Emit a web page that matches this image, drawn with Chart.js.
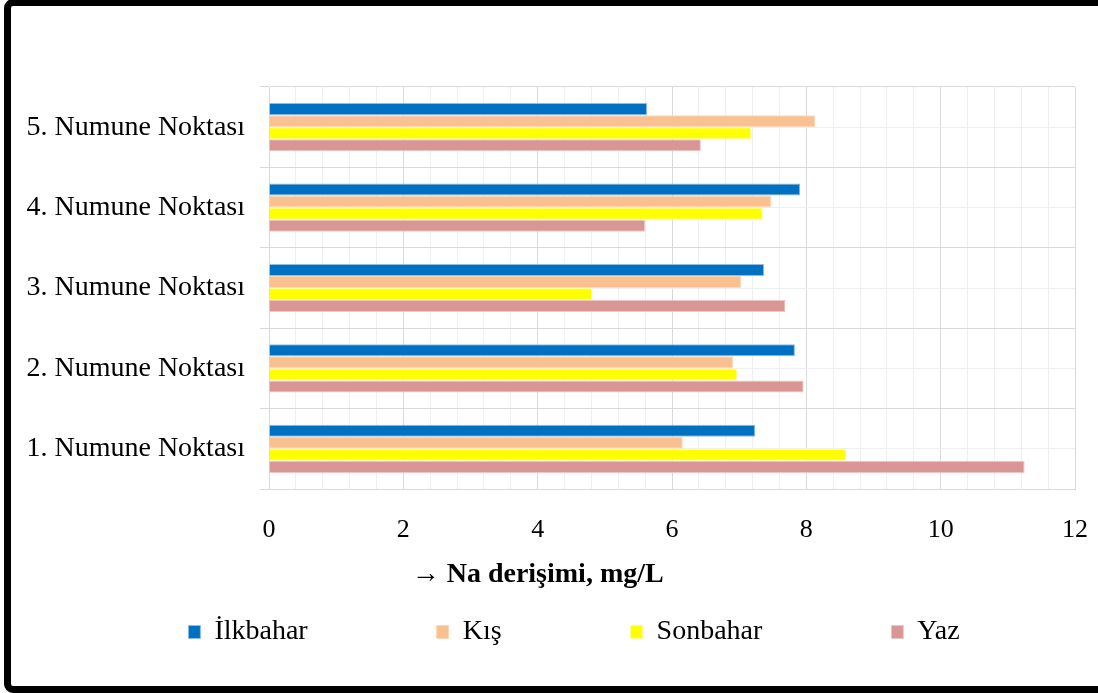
<!DOCTYPE html>
<html lang="tr">
<head>
<meta charset="utf-8">
<title>Na derişimi</title>
<script src="https://cdn.jsdelivr.net/npm/chart.js@4/dist/chart.umd.min.js"></script>
<style>
  html, body { margin: 0; padding: 0; background: #fff; overflow: hidden; }
  #wrap { position: relative; width: 1098px; height: 693px; }
  #frame {
    position: absolute; left: 4px; top: -1px; width: 1110px; height: 694px;
    box-sizing: border-box; border: 7px solid #000; border-radius: 9px;
    pointer-events: none;
  }
</style>
</head>
<body>
<div id="wrap">
  <canvas id="chart"></canvas>
  <div id="frame"></div>
</div>
<script>
// Sampling points (bottom to top on the chart)
const categories = ['1. Numune Noktası', '2. Numune Noktası', '3. Numune Noktası', '4. Numune Noktası', '5. Numune Noktası'];

// Na concentration per season, mg/L
const ilkbahar = [7.24, 7.83, 7.37, 7.91, 5.63];
const kis      = [6.16, 6.91, 7.03, 7.48, 8.13];
const sonbahar = [8.59, 6.97, 4.81, 7.35, 7.18];
const yaz      = [11.25, 7.96, 7.69, 5.60, 6.43];

const seriesNames = ['İlkbahar', 'Kış', 'Sonbahar', 'Yaz'];
const xTitle = '→ Na derişimi, mg/L';

const FONT = '"Liberation Serif", "Times New Roman", serif';
const MAJOR = 2;      // labelled gridline interval
const MINOR = 0.4;    // light gridline interval

Chart.defaults.color = '#000';
Chart.defaults.font.family = FONT;

const isMajor = v => Math.abs(v / MAJOR - Math.round(v / MAJOR)) < 1e-6;

// Bold axis caption under the tick labels, centred on a value of the x scale
const axisCaption = {
  id: 'axisCaption',
  afterDraw(chart, args, opts) {
    const x = chart.scales.x;
    const ctx = chart.ctx;
    ctx.save();
    ctx.font = 'bold 28px ' + FONT;
    ctx.fillStyle = '#000';
    ctx.textAlign = 'center';
    ctx.textBaseline = 'middle';
    ctx.fillText(opts.text, x.getPixelForValue(opts.at), chart.chartArea.bottom + opts.offset);
    ctx.restore();
  }
};

function makeSet(label, data, fill, edge) {
  return {
    label, data,
    backgroundColor: fill,
    borderColor: edge,
    borderWidth: 1,
    categoryPercentage: 0.6,
    barPercentage: 1.0
  };
}

new Chart(document.getElementById('chart'), {
  type: 'bar',
  data: {
    labels: categories,
    datasets: [
      makeSet(seriesNames[0], ilkbahar, '#0070C0', '#8fbde6'),
      makeSet(seriesNames[1], kis,      '#FAC08F', '#fcd8b9'),
      makeSet(seriesNames[2], sonbahar, '#FFFF00', '#ffff99'),
      makeSet(seriesNames[3], yaz,      '#D99694', '#ecc6c5')
    ]
  },
  plugins: [axisCaption],
  options: {
    indexAxis: 'y',
    responsive: true,
    maintainAspectRatio: false,
    animation: false,
    layout: { padding: { left: 20, right: -30, top: 87, bottom: 37 } },
    scales: {
      x: {
        type: 'linear',
        min: 0, max: 12,
        afterFit(scale) { scale.height = 0; scale.paddingLeft = 0; scale.paddingRight = 0; },
        ticks: {
          stepSize: MINOR,
          autoSkip: false,
          maxRotation: 0, minRotation: 0,
          mirror: true,
          padding: -57,
          font: { size: 26 },
          callback: v => isMajor(v) ? String(Math.round(v)) : ''
        },
        grid: {
          drawTicks: false,
          color: c => (c.tick && isMajor(c.tick.value)) ? '#d9d9d9' : '#efefef'
        },
        border: { color: '#d9d9d9' }
      },
      y: {
        type: 'category',
        reverse: true,
        afterFit(scale) { scale.width = 249; },
        ticks: { padding: 15, font: { size: 28 } },
        grid: {
          offset: true,
          color: '#d9d9d9',
          tickColor: '#d9d9d9',
          tickLength: 9
        },
        border: { color: '#d9d9d9' }
      },
      yMid: {
        type: 'category',
        position: 'right',
        reverse: true,
        offset: true,
        afterFit(scale) { scale.width = 53; },
        ticks: { display: false },
        grid: { offset: false, color: '#efefef', drawTicks: false },
        border: { display: false }
      }
    },
    plugins: {
      legend: {
        position: 'bottom',
        onClick: null,
        labels: {
          boxWidth: 12,
          boxHeight: 13,
          padding: 129,
          font: { size: 28 }
        }
      },
      tooltip: { enabled: false },
      axisCaption: { text: xTitle, at: 4, offset: 86 }
    }
  }
});
</script>
</body>
</html>
